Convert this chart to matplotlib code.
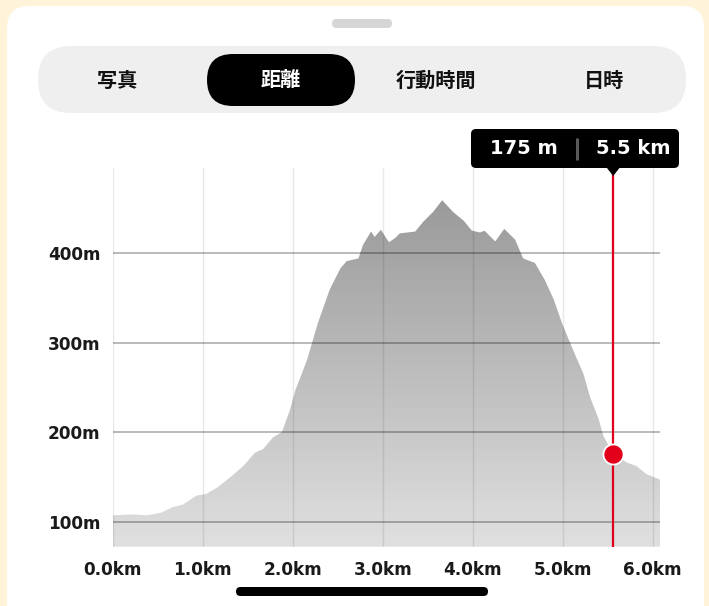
import matplotlib
matplotlib.use("Agg")
import matplotlib.pyplot as plt
import numpy as np
from matplotlib.patches import FancyBboxPatch, Polygon
from matplotlib.colors import LinearSegmentedColormap

# ---------------- data ----------------
tabs = ["写真", "距離", "行動時間", "日時"]
selected_tab = 1

dist_km = [0.00, 0.23, 0.38, 0.54, 0.66, 0.78, 0.93, 1.04, 1.16, 1.30, 1.45, 1.58,
           1.67, 1.78, 1.88, 1.97, 2.03, 2.10, 2.16, 2.28, 2.41, 2.53, 2.60, 2.73,
           2.78, 2.87, 2.91, 2.98, 3.03, 3.07, 3.14, 3.19, 3.36, 3.45, 3.56, 3.66,
           3.78, 3.90, 3.99, 4.08, 4.13, 4.25, 4.35, 4.47, 4.56, 4.69, 4.80, 4.90,
           4.99, 5.08, 5.16, 5.23, 5.30, 5.40, 5.45, 5.56, 5.71, 5.82, 5.93, 6.08]
elev_m = [107, 108, 107, 110, 116, 119, 129, 131, 138, 149, 162, 177,
          181, 194, 200, 225, 247, 265, 281, 322, 359, 383, 391, 394,
          409, 424, 418, 426, 418, 412, 417, 422, 424, 435, 446, 459,
          446, 436, 425, 423, 425, 413, 427, 415, 394, 389, 370, 348,
          322, 300, 281, 265, 240, 214, 196, 176, 166, 162, 153, 147]

x_ticks = [0, 1, 2, 3, 4, 5, 6]
x_tick_labels = ["0.0km", "1.0km", "2.0km", "3.0km", "4.0km", "5.0km", "6.0km"]
y_ticks = [100, 200, 300, 400]
y_tick_labels = ["100m", "200m", "300m", "400m"]

sel_dist = 5.56
sel_elev = 175
tooltip_labels = ["175 m", "5.5 km"]

# ---------------- figure ----------------
W, H = 709, 606
fig = plt.figure(figsize=(W / 100, H / 100), dpi=100)
fig.patch.set_facecolor("#FFF4D9")

CJK = ["Noto Sans CJK JP", "DejaVu Sans"]
LAT = ["DejaVu Sans"]

# background UI axes (pixel coordinates, y down)
bg = fig.add_axes([0, 0, 1, 1], zorder=0)
bg.set_xlim(0, W)
bg.set_ylim(H, 0)
bg.axis("off")


def rbox(ax, x0, y0, x1, y1, r, color, z=1):
    p = FancyBboxPatch((x0, y0), x1 - x0, y1 - y0,
                       boxstyle=f"round,pad=0,rounding_size={r}",
                       fc=color, ec="none", zorder=z)
    ax.add_patch(p)
    return p


# white card
rbox(bg, 7, 6, 704, 700, 22, "white", 1)
# handle
rbox(bg, 332, 19, 392, 28, 4.5, "#D6D6D6", 2)
# segment control
rbox(bg, 38, 46, 686, 113, 33, "#EFEFEF", 2)
rbox(bg, 207, 54, 355, 106, 26, "#000000", 3)
tab_x = [117, 281, 436, 604]
for i, (t, tx) in enumerate(zip(tabs, tab_x)):
    bg.text(tx, 80, t, ha="center", va="center", fontsize=14.5,
            fontweight="bold", family=CJK,
            color="white" if i == selected_tab else "#111111", zorder=4)

# ---------------- chart axes ----------------
left, right, top, bottom = 112.7, 660, 168, 546.7
ax = fig.add_axes([left / W, 1 - bottom / H, (right - left) / W, (bottom - top) / H], zorder=2)
ax.patch.set_alpha(0)
x_max = dist_km[-1]
y_min, y_max = 72, 495
for s in ax.spines.values():
    s.set_visible(False)

# gradient-filled area
cmap = LinearSegmentedColormap.from_list("g", ["#E0E0E0", "#999999"])
grad = np.linspace(0, 1, 256).reshape(-1, 1)
im = ax.imshow(grad, cmap=cmap, aspect="auto", origin="lower",
               extent=[0, x_max, y_min, 465], zorder=1, interpolation="bilinear")
poly = Polygon(np.column_stack([[0] + dist_km + [x_max], [y_min] + elev_m + [y_min]]),
               closed=True, transform=ax.transData, fc="none", ec="none")
ax.add_patch(poly)
im.set_clip_path(poly)
ax.set_xlim(0, x_max)
ax.set_ylim(y_min, y_max)

# grid
for xv in x_ticks:
    ax.axvline(xv, color="black", alpha=0.09, lw=1.0, zorder=2)
for yv in y_ticks:
    ax.axhline(yv, color="black", alpha=0.32, lw=1.2, zorder=2)

ax.set_xticks(x_ticks)
ax.set_xticklabels(x_tick_labels)
ax.set_yticks(y_ticks)
ax.set_yticklabels(y_tick_labels)
ax.tick_params(axis="both", length=0, labelsize=12.2, colors="#1A1A1A")
ax.tick_params(axis="x", pad=10)
ax.tick_params(axis="y", pad=9)
for lab in ax.get_xticklabels() + ax.get_yticklabels():
    lab.set_family(LAT)
    lab.set_fontweight("bold")

# selection line and dot
ax.axvline(sel_dist, color="#E1001B", lw=1.6, zorder=5)
ax.plot([sel_dist], [sel_elev], "o", ms=14.5, mfc="#E3001B", mec="white",
        mew=1.3, zorder=6, clip_on=False)

# ---------------- overlay (tooltip, home bar) ----------------
ov = fig.add_axes([0, 0, 1, 1], zorder=3)
ov.set_xlim(0, W)
ov.set_ylim(H, 0)
ov.axis("off")
ov.patch.set_alpha(0)

px = ax.transData.transform((sel_dist, sel_elev))[0]
rbox(ov, 471, 129, 679, 168, 5, "#000000", 5)
ov.add_patch(Polygon([[px - 7, 167], [px + 7, 167], [px, 176]], closed=True,
                     fc="#000000", ec="none", zorder=5))
ov.text(524, 149, tooltip_labels[0], ha="center", va="center", color="white",
        fontsize=14, fontweight="bold", family=LAT, zorder=6)
ov.text(633, 149, tooltip_labels[1], ha="center", va="center", color="white",
        fontsize=14, fontweight="bold", family=LAT, zorder=6)
ov.plot([577, 577], [138, 160], color="#5A5A5A", lw=2.2, zorder=6,
        solid_capstyle="butt")

rbox(ov, 236, 587, 488, 596, 4.5, "#000000", 5)

fig.savefig("out.png", dpi=100, facecolor=fig.get_facecolor())
